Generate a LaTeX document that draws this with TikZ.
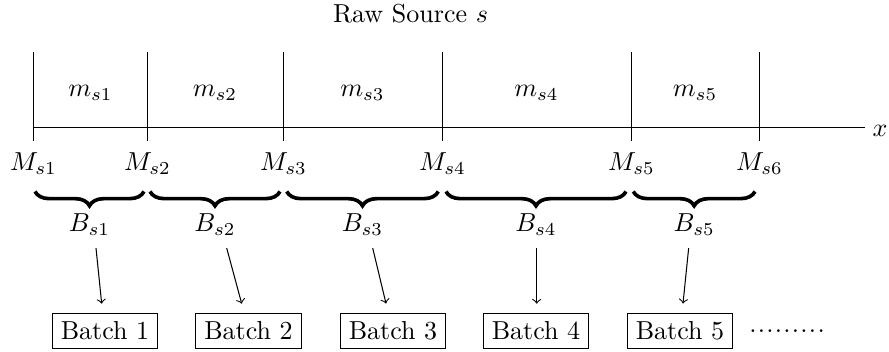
\documentclass[tikz,border=0pt]{standalone}
\usetikzlibrary{decorations.pathreplacing,calc}
\begin{document}
\begin{tikzpicture}[x=0.3846pt,y=-0.3846pt,
  mark line/.style={line width=0.4pt},
  lbl/.style={anchor=base,inner sep=3.33pt},
  brc/.style={decorate,decoration={brace,mirror,amplitude=5.5pt},line width=1.4pt},
  batchbox/.style={draw,line width=0.4pt,inner sep=3.33pt},
  feed/.style={->,line width=0.4pt}]
\useasboundingbox (0,0) rectangle (889,352);

% title
\node[lbl] (title) at (410.5,23) {Raw Source $s$};

% x axis
\draw[mark line] (33.5,127.5) -- (865,127.5);
\node[lbl] (xlab) at (880,137) {$x$};

% boundaries M_s1 ... M_s6
\foreach \i/\x in {1/33.5,2/147.5,3/283.5,4/442.5,5/631.5,6/759.5}{
  \draw[mark line] (\x,52) -- (\x,141);
  \node[lbl] (M\i) at (\x,170.5) {$M_{s\i}$};
}

% segment labels m_s1 ... m_s5
\foreach \i/\x in {1/90.5,2/215,3/362.5,4/536.5,5/695}{
  \node[lbl] (m\i) at (\x,97) {$m_{s\i}$};
}

% braces and batch labels B_s1 ... B_s5
\foreach \i/\a/\b in {1/35/144,2/150/280,3/286.7/438.3,4/446/626,5/633.3/755}{
  \draw[brc] (\a,191.5) -- (\b,191.5);
  \node[lbl] (B\i) at ({(\a+\b)/2},231.5) {$B_{s\i}$};
}

% batches
\foreach \i/\x in {1/105,2/248.5,3/393,4/536,5/680}{
  \node[batchbox] (T\i) at (\x,331) {Batch \i};
}
\node[inner sep=0pt] (more) at (787,331) {.\kern.5pt.\kern.5pt.\kern.5pt.\kern.5pt.\kern.5pt.\kern.5pt.\kern.5pt.\kern.5pt.};

% arrows from batch labels to batches
\foreach \i/\s/\e in {1/6.5/-3.3,2/11.7/-6.8,3/10.2/-7,4/0.7/0.7,5/-5.5/3}{
  \draw[feed] ($(B\i.south)+(\s,3.5)$) -- ($(T\i.north)+(\e,-9)$);
}
\end{tikzpicture}
\end{document}
